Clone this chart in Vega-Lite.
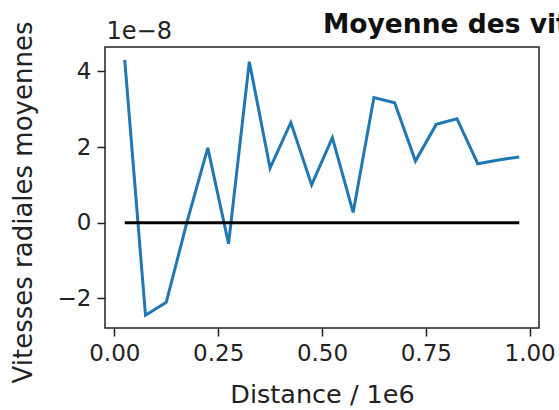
{
  "$schema": "https://vega.github.io/schema/vega-lite/v6.json",
  "width": 434,
  "height": 281,
  "autosize": "none",
  "padding": {"left": 105, "top": 47, "right": 20, "bottom": 82},
  "background": "white",
  "title": {
    "text": "Moyenne des vitesses radiales",
    "anchor": "start",
    "frame": "group",
    "dx": 218,
    "dy": 19,
    "offset": 0,
    "font": "DejaVu Sans",
    "fontSize": 26.5,
    "fontWeight": "bold",
    "color": "#111"
  },
  "datasets": {
    "moyennes": [
      {"distance": 0.025, "vitesse": 4.31e-8},
      {"distance": 0.075, "vitesse": -2.45e-8},
      {"distance": 0.125, "vitesse": -2.11e-8},
      {"distance": 0.175, "vitesse": 0.02e-8},
      {"distance": 0.225, "vitesse": 1.98e-8},
      {"distance": 0.275, "vitesse": -0.56e-8},
      {"distance": 0.325, "vitesse": 4.26e-8},
      {"distance": 0.375, "vitesse": 1.44e-8},
      {"distance": 0.425, "vitesse": 2.65e-8},
      {"distance": 0.475, "vitesse": 1.0e-8},
      {"distance": 0.525, "vitesse": 2.25e-8},
      {"distance": 0.575, "vitesse": 0.27e-8},
      {"distance": 0.625, "vitesse": 3.31e-8},
      {"distance": 0.675, "vitesse": 3.17e-8},
      {"distance": 0.725, "vitesse": 1.63e-8},
      {"distance": 0.775, "vitesse": 2.6e-8},
      {"distance": 0.825, "vitesse": 2.75e-8},
      {"distance": 0.875, "vitesse": 1.56e-8},
      {"distance": 0.925, "vitesse": 1.66e-8},
      {"distance": 0.975, "vitesse": 1.74e-8}
    ],
    "zero": [
      {"distance": 0.025, "vitesse": 0},
      {"distance": 0.975, "vitesse": 0}
    ]
  },
  "layer": [
    {
      "data": {"name": "moyennes"},
      "mark": {"type": "line", "color": "#1f77b4", "strokeWidth": 3, "clip": true},
      "encoding": {
        "x": {
          "field": "distance",
          "type": "quantitative",
          "scale": {"domain": [-0.0225, 1.0225], "nice": false, "zero": false},
          "axis": {
            "values": [0, 0.25, 0.5, 0.75, 1],
            "format": ".2f",
            "title": "Distance / 1e6",
            "grid": false,
            "domain": false,
            "labelPadding": 6,
            "titlePadding": 17
          }
        },
        "y": {
          "field": "vitesse",
          "type": "quantitative",
          "scale": {"domain": [-2.788e-8, 4.648e-8], "nice": false, "zero": false},
          "axis": {
            "values": [-2e-8, 0, 2e-8, 4e-8],
            "labelExpr": "format(datum.value * 1e8, '.0f')",
            "title": "1e−8",
            "titleAngle": 0,
            "titleAlign": "left",
            "titleBaseline": "alphabetic",
            "titleX": 1,
            "titleY": -9,
            "titleFontSize": 24,
            "grid": false,
            "domain": false,
            "labelPadding": 6
          }
        }
      }
    },
    {
      "data": {"name": "zero"},
      "mark": {"type": "line", "color": "#000000", "strokeWidth": 3},
      "encoding": {
        "x": {
          "field": "distance",
          "type": "quantitative",
          "scale": {"domain": [-0.0225, 1.0225], "nice": false, "zero": false},
          "axis": {
            "values": [0, 0.25, 0.5, 0.75, 1],
            "format": ".2f",
            "title": "Distance / 1e6",
            "grid": false,
            "domain": false,
            "labelPadding": 6,
            "titlePadding": 17
          }
        },
        "y": {
          "field": "vitesse",
          "type": "quantitative",
          "axis": {
            "orient": "left",
            "labels": false,
            "ticks": false,
            "domain": false,
            "grid": false,
            "title": "Vitesses radiales moyennes",
            "titleAngle": -90,
            "titleAlign": "center",
            "titleBaseline": "middle",
            "titleX": -82,
            "titleY": 155,
            "titleFontSize": 26
          }
        }
      }
    }
  ],
  "resolve": {"axis": {"y": "independent"}},
  "config": {
    "view": {"stroke": "#222", "strokeWidth": 1.5},
    "axis": {
      "labelFont": "DejaVu Sans",
      "labelFontSize": 23,
      "labelColor": "#222",
      "titleFont": "DejaVu Sans",
      "titleFontSize": 25.5,
      "titleFontWeight": "normal",
      "titleColor": "#222",
      "tickColor": "#222",
      "tickWidth": 1.5,
      "tickSize": 8
    }
  }
}
